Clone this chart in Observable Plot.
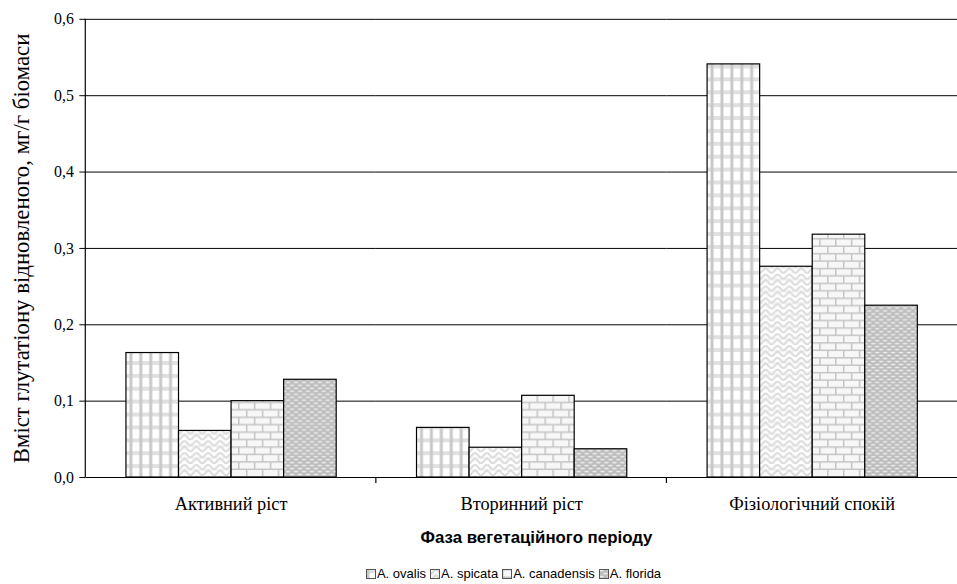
<!DOCTYPE html>
<html>
<head>
<meta charset="utf-8">
<script src="https://cdn.jsdelivr.net/npm/d3@7"></script>
<script src="https://cdn.jsdelivr.net/npm/@observablehq/plot@0.6"></script>
<style>
  html, body { margin: 0; padding: 0; background: #fff; overflow: hidden; }
  #chart svg { overflow: hidden; display: block; }
  #legend { width: 957px; box-sizing: border-box; padding-left: 70px; text-align: center;
            font-family: "Liberation Sans", Arial, sans-serif; font-size: 13px; color: #000; margin-top: 15px; }
  #legend span.item { margin: 0 2px; white-space: nowrap; }
  #legend svg { vertical-align: -1px; margin-right: 1px; }
</style>
</head>
<body>
<svg width="0" height="0" style="position:absolute">
  <defs>
    <pattern id="pat0" patternUnits="userSpaceOnUse" width="10" height="13">
      <rect width="10" height="13" fill="#ffffff"/>
      <rect x="0" y="0" width="10" height="4" fill="#e0e0e0"/>
      <rect x="0.5" y="0" width="3" height="13" fill="#c8c8c8"/>
    </pattern>
    <pattern id="pat1" patternUnits="userSpaceOnUse" width="12" height="12">
      <rect width="12" height="12" fill="#ffffff"/>
      <path d="M0,6 L6,0 L12,6 M0,12 L6,6 L12,12" fill="none" stroke="#dadada" stroke-width="2"/>
      <path d="M3,3 L3,9 M9,3 L9,9" fill="none" stroke="#e6e6e6" stroke-width="1"/>
    </pattern>
    <pattern id="pat2" patternUnits="userSpaceOnUse" width="16" height="15">
      <rect width="16" height="15" fill="#f7f7f7"/>
      <path d="M0,0.75 H16 M0,8.25 H16 M0.75,0 V8.25 M8.75,8.25 V15" fill="none" stroke="#c4c4c4" stroke-width="1.5"/>
    </pattern>
    <pattern id="pat3" patternUnits="userSpaceOnUse" width="8" height="6">
      <rect width="8" height="6" fill="#bdbdbd"/>
      <rect x="0.5" y="0.8" width="4" height="1.5" fill="#efefef"/>
      <rect x="4.5" y="3.8" width="3.5" height="1.5" fill="#efefef"/>
      <rect x="0" y="3.8" width="0.5" height="1.5" fill="#efefef"/>
    </pattern>
  </defs>
</svg>
<div id="chart"></div>
<div id="legend"></div>
<script>
// ---- data ----
const phases = ["Активний ріст", "Вторинний ріст", "Фізіологічний спокій"];
const species = ["A. ovalis", "A. spicata", "A. canadensis", "A. florida"];
const ovalisValues = [0.163, 0.065, 0.541];
const spicataValues = [0.061, 0.039, 0.276];
const canadensisValues = [0.100, 0.107, 0.318];
const floridaValues = [0.128, 0.037, 0.225];
const yTicks = [0, 0.1, 0.2, 0.3, 0.4, 0.5, 0.6];
const patternFills = ["url(#pat0)", "url(#pat1)", "url(#pat2)", "url(#pat3)"];

const seriesValues = [ovalisValues, spicataValues, canadensisValues, floridaValues];
const rows = [];
phases.forEach((p, i) => species.forEach((s, j) => rows.push({phase: p, species: s, value: seriesValues[j][i]})));

const fmt = d => d.toFixed(1).replace(".", ",");

const chart = Plot.plot({
  width: 965,
  height: 556,
  marginLeft: 86,
  marginRight: 0,
  marginTop: 19,
  marginBottom: 75,
  style: {fontFamily: "'Liberation Serif', 'Times New Roman', serif", fontSize: "16px", color: "#000", background: "#fff"},
  fx: {domain: phases, padding: 0},
  x: {domain: species, paddingInner: 0, paddingOuter: 0.76, axis: null},
  y: {domain: [0, 0.6]},
  color: {type: "ordinal", domain: species, range: patternFills},
  marks: [
    Plot.gridY(yTicks.slice(1), {stroke: "#000", strokeOpacity: 1, strokeWidth: 1}),
    Plot.barY(rows, {fx: "phase", x: "species", y: "value", fill: "species", stroke: "#000", strokeWidth: 1.2}),
    Plot.ruleY([0], {stroke: "#000", strokeWidth: 1.2}),
    Plot.axisY(yTicks, {anchor: "left", tickFormat: fmt, tickSize: 6, tickPadding: 6,
      label: "Вміст глутатіону відновленого, мг/г біомаси", labelAnchor: "center", labelOffset: 74, labelArrow: "none"}),
    Plot.axisFx({anchor: "bottom", tickSize: 0, tickPadding: 20,
      label: "Фаза вегетаційного періоду", labelAnchor: "center", labelOffset: 66, labelArrow: "none"})
  ]
});
document.getElementById("chart").appendChild(chart);

// text styling (inline, so it wins over inherited attributes)
const sel = d3.select(chart);
const styleAll = (label, styles) => {
  sel.selectAll(`[aria-label="${label}"]`).each(function() {
    const nodes = this.tagName === "text" ? [this] : Array.from(this.querySelectorAll("text"));
    nodes.forEach(n => Object.entries(styles).forEach(([k, v]) => n.style.setProperty(k, v)));
  });
};
styleAll("y-axis label", {"font-family": "'Liberation Serif', 'Times New Roman', serif", "font-size": "23px"});
styleAll("fx-axis label", {"font-family": "'Liberation Sans', Arial, sans-serif", "font-weight": "bold", "font-size": "17px"});
styleAll("y-axis tick label", {"font-size": "16px"});
styleAll("fx-axis tick label", {"font-size": "18.5px"});
sel.selectAll('[aria-label="fx-axis label"]').attr("transform", function() {
  const t = this.getAttribute("transform") || "";
  return t + " translate(15,0)";
});

// axis line and category-boundary ticks from the library's scales
const fxS = chart.scale("fx"), yS = chart.scale("y");
const ns = "http://www.w3.org/2000/svg";
const g = document.createElementNS(ns, "g");
g.setAttribute("stroke", "#000");
g.setAttribute("stroke-width", "1.2");
const addLine = (x1, y1, x2, y2) => {
  const l = document.createElementNS(ns, "line");
  l.setAttribute("x1", x1); l.setAttribute("y1", y1); l.setAttribute("x2", x2); l.setAttribute("y2", y2);
  g.appendChild(l);
};
const y0 = yS.apply(0), yTop = yS.apply(0.6);
addLine(fxS.apply(phases[0]), yTop, fxS.apply(phases[0]), y0);
phases.slice(1).forEach(p => addLine(fxS.apply(p), y0, fxS.apply(p), y0 + 6));
chart.appendChild(g);

// legend
const legend = document.getElementById("legend");
species.forEach((s, i) => {
  const item = document.createElement("span");
  item.className = "item";
  item.innerHTML = `<svg width="10" height="10"><rect x="0.5" y="0.5" width="9" height="9" fill="${patternFills[i]}" stroke="#555" stroke-width="1"/></svg>${s}`;
  legend.appendChild(item);
});
</script>
</body>
</html>
